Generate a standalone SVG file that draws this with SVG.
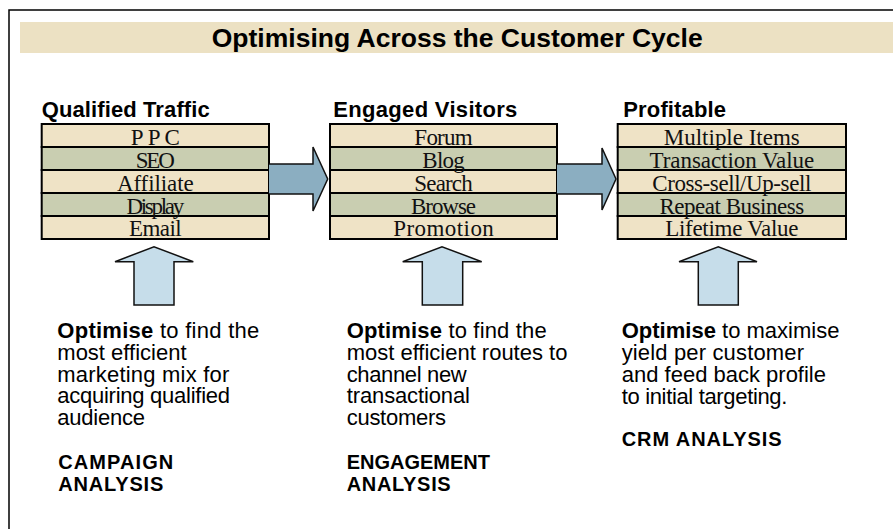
<svg xmlns="http://www.w3.org/2000/svg" width="893" height="529" viewBox="0 0 893 529">
  <style>
    .frame { fill: none; stroke: #000; stroke-width: 1.5; }
    .band { fill: #ECE1C3; }
    .title { font-family: "Liberation Sans", Arial, sans-serif; font-weight: bold; font-size: 26.5px; fill: #000; }
    .head { font-family: "Liberation Sans", Arial, sans-serif; font-weight: bold; font-size: 22px; fill: #000; }
    .row-a { fill: #EFE3C6; stroke: #000; stroke-width: 2; }
    .row-b { fill: #C9CEB1; stroke: #000; stroke-width: 2; }
    .item { font-family: "Liberation Serif", "Times New Roman", serif; font-size: 23px; fill: #111; text-anchor: middle; }
    .flow { fill: #8BAEC1; stroke: #111; stroke-width: 1.5; stroke-linejoin: miter; }
    .lift { fill: #C6DDEA; stroke: #111; stroke-width: 1.5; stroke-linejoin: miter; }
    .body { font-family: "Liberation Sans", Arial, sans-serif; font-size: 22px; fill: #000; }
    .tag { font-family: "Liberation Sans", Arial, sans-serif; font-size: 20px; font-weight: bold; fill: #000; }
    .b { font-weight: bold; }
  </style>

  <!-- page frame (top and left rules) -->
  <path class="frame" d="M9,529 V10 H893"/>

  <!-- title banner -->
  <g id="title">
    <rect class="band" x="20" y="22" width="873" height="31"/>
    <text class="title" x="211.7" y="47" textLength="491" lengthAdjust="spacing">Optimising Across the Customer Cycle</text>
  </g>

  <!-- stage 1 -->
  <g id="qualified-traffic">
    <text class="head" x="41.7" y="116.7" textLength="168" lengthAdjust="spacing">Qualified Traffic</text>
    <rect class="row-a" x="41.7" y="124" width="227.3" height="23"/>
    <rect class="row-b" x="41.7" y="147" width="227.3" height="23"/>
    <rect class="row-a" x="41.7" y="170" width="227.3" height="23"/>
    <rect class="row-b" x="41.7" y="193" width="227.3" height="23"/>
    <rect class="row-a" x="41.7" y="216" width="227.3" height="23"/>
    <text class="item" x="155.3" y="145" textLength="49" lengthAdjust="spacing">PPC</text>
    <text class="item" x="155.3" y="168" textLength="39" lengthAdjust="spacing">SEO</text>
    <text class="item" x="155.3" y="191" textLength="76.7" lengthAdjust="spacing">Affiliate</text>
    <text class="item" x="155.3" y="213.5" textLength="57.7" lengthAdjust="spacing">Display</text>
    <text class="item" x="155.3" y="236" textLength="52.7" lengthAdjust="spacing">Email</text>
  </g>

  <!-- stage 2 -->
  <g id="engaged-visitors">
    <text class="head" x="333.3" y="116.7" textLength="184" lengthAdjust="spacing">Engaged Visitors</text>
    <rect class="row-a" x="330" y="124" width="227" height="23"/>
    <rect class="row-b" x="330" y="147" width="227" height="23"/>
    <rect class="row-a" x="330" y="170" width="227" height="23"/>
    <rect class="row-b" x="330" y="193" width="227" height="23"/>
    <rect class="row-a" x="330" y="216" width="227" height="23"/>
    <text class="item" x="443.5" y="145" textLength="58.3" lengthAdjust="spacing">Forum</text>
    <text class="item" x="443.5" y="168" textLength="42.3" lengthAdjust="spacing">Blog</text>
    <text class="item" x="443.5" y="191" textLength="58.3" lengthAdjust="spacing">Search</text>
    <text class="item" x="443.5" y="213.5" textLength="65" lengthAdjust="spacing">Browse</text>
    <text class="item" x="443.5" y="236" textLength="100.7" lengthAdjust="spacing">Promotion</text>
  </g>

  <!-- stage 3 -->
  <g id="profitable">
    <text class="head" x="623.3" y="116.7" textLength="102.7" lengthAdjust="spacing">Profitable</text>
    <rect class="row-a" x="617.7" y="124" width="228.3" height="23"/>
    <rect class="row-b" x="617.7" y="147" width="228.3" height="23"/>
    <rect class="row-a" x="617.7" y="170" width="228.3" height="23"/>
    <rect class="row-b" x="617.7" y="193" width="228.3" height="23"/>
    <rect class="row-a" x="617.7" y="216" width="228.3" height="23"/>
    <text class="item" x="731.8" y="145" textLength="136" lengthAdjust="spacing">Multiple Items</text>
    <text class="item" x="731.8" y="168" textLength="164.7" lengthAdjust="spacing">Transaction Value</text>
    <text class="item" x="731.8" y="191" textLength="159" lengthAdjust="spacing">Cross-sell/Up-sell</text>
    <text class="item" x="731.8" y="213.5" textLength="144.7" lengthAdjust="spacing">Repeat Business</text>
    <text class="item" x="731.8" y="236" textLength="133.3" lengthAdjust="spacing">Lifetime Value</text>
  </g>

  <!-- flow arrows between stages and optimisation arrows into each stage -->
  <g id="connectors">
    <path class="flow" d="M269,164 H313 V147 L327.7,179 L313,211 V194 H269"/>
    <path class="flow" d="M557,164 H602 V148 L616,179 L602,210 V194 H557"/>
    <path class="lift" d="M134,305 V261.7 H115 L154,246.7 L193.3,261.7 H174 V305 Z"/>
    <path class="lift" d="M422.3,305 V261.7 H402.7 L442,246.7 L481.7,261.7 H462.7 V305 Z"/>
    <path class="lift" d="M698.3,305 V261.7 H679 L718.3,246.7 L757,261.7 H738.3 V305 Z"/>
  </g>

  <!-- optimisation notes -->
  <g id="campaign-note">
    <text class="body" x="57.3" y="337.7" textLength="202" lengthAdjust="spacing"><tspan class="b">Optimise</tspan> to find the</text>
    <text class="body" x="57.3" y="359.5" textLength="129.3" lengthAdjust="spacing">most efficient</text>
    <text class="body" x="57.3" y="381.5" textLength="172" lengthAdjust="spacing">marketing mix for</text>
    <text class="body" x="57.3" y="403.3" textLength="172.7" lengthAdjust="spacing">acquiring qualified</text>
    <text class="body" x="57.3" y="425" textLength="87.7" lengthAdjust="spacing">audience</text>
    <text class="tag" x="58.3" y="468.5" textLength="115" lengthAdjust="spacing">CAMPAIGN</text>
    <text class="tag" x="58.3" y="491" textLength="105" lengthAdjust="spacing">ANALYSIS</text>
  </g>

  <g id="engagement-note">
    <text class="body" x="346.7" y="337.7" textLength="200" lengthAdjust="spacing"><tspan class="b">Optimise</tspan> to find the</text>
    <text class="body" x="346.7" y="359.5" textLength="220.7" lengthAdjust="spacing">most efficient routes to</text>
    <text class="body" x="346.7" y="381.5" textLength="120" lengthAdjust="spacing">channel new</text>
    <text class="body" x="346.7" y="403.3" textLength="123.3" lengthAdjust="spacing">transactional</text>
    <text class="body" x="346.7" y="425" textLength="99.3" lengthAdjust="spacing">customers</text>
    <text class="tag" x="346.7" y="468.5" textLength="143.3" lengthAdjust="spacing">ENGAGEMENT</text>
    <text class="tag" x="346.7" y="491" textLength="104" lengthAdjust="spacing">ANALYSIS</text>
  </g>

  <g id="crm-note">
    <text class="body" x="621.7" y="338.3" textLength="217.7" lengthAdjust="spacing"><tspan class="b">Optimise</tspan> to maximise</text>
    <text class="body" x="621.7" y="360" textLength="182.3" lengthAdjust="spacing">yield  per customer</text>
    <text class="body" x="621.7" y="381.7" textLength="204.3" lengthAdjust="spacing">and feed back profile</text>
    <text class="body" x="621.7" y="404" textLength="165.7" lengthAdjust="spacing">to initial targeting.</text>
    <text class="tag" x="621.7" y="446" textLength="160" lengthAdjust="spacing">CRM ANALYSIS</text>
  </g>
</svg>
